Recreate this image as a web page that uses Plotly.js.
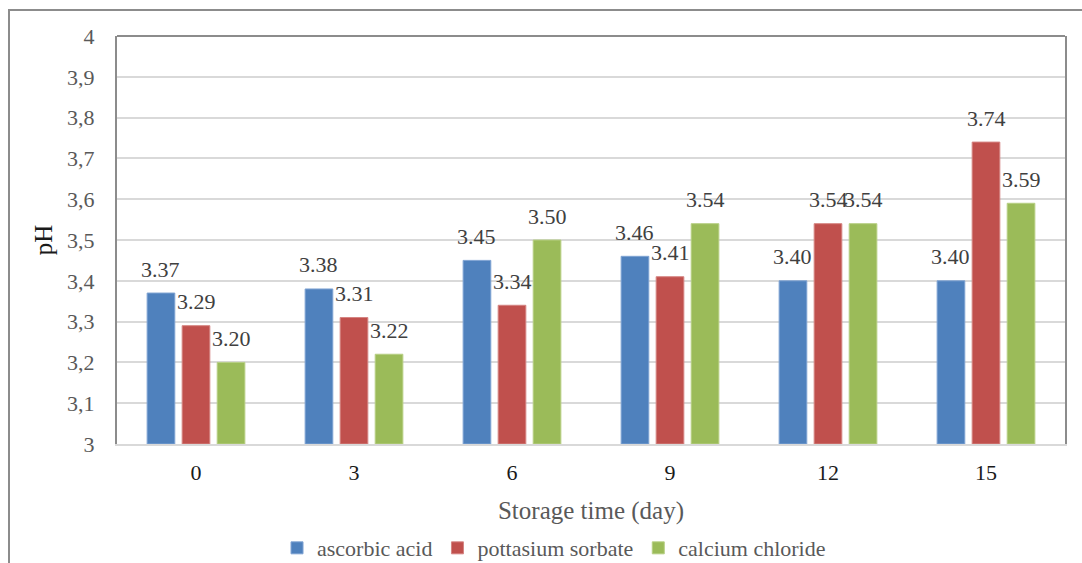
<!DOCTYPE html>
<html>
<head>
<meta charset="utf-8">
<script src="https://cdn.plot.ly/plotly-3.0.1.min.js"></script>
<style>
  html, body { margin: 0; padding: 0; background: #fff; }
  #frame { position: absolute; left: 8px; top: 9px; width: 1100px; height: 600px; border: 2px solid #8c8c8c; box-sizing: border-box; }
  #chart { position: absolute; left: 0; top: 0; width: 1082px; height: 563px; }
</style>
</head>
<body>
<div id="frame"></div>
<div id="chart"></div>
<script>
const categories = ["0", "3", "6", "9", "12", "15"];
const ascorbicAcid = [3.37, 3.38, 3.45, 3.46, 3.40, 3.40];
const potassiumSorbate = [3.29, 3.31, 3.34, 3.41, 3.54, 3.74];
const calciumChloride = [3.20, 3.22, 3.50, 3.54, 3.54, 3.59];
const seriesNames = ["ascorbic acid", "pottasium sorbate", "calcium chloride"];
const yTicks = [3, 3.1, 3.2, 3.3, 3.4, 3.5, 3.6, 3.7, 3.8, 3.9, 4];

const colors = ["#4F81BD", "#C0504D", "#9BBB59"];
const lineColors = ["#7FA3D3", "#D58482", "#B7CF84"];
const serif = "Liberation Serif";
const BARGAP = 0.335;
const BARGROUPGAP = 0.21;

const seriesData = [ascorbicAcid, potassiumSorbate, calciumChloride];
const traces = seriesData.map((vals, i) => ({
  type: "bar",
  name: seriesNames[i],
  x: categories,
  y: vals.map(v => v - 3),
  base: 3,
  marker: { color: colors[i], line: { color: lineColors[i], width: 1 } },
  hoverinfo: "skip"
}));

// data labels positioned via the category axis (index + group offset)
const slot = (1 - BARGAP) / seriesData.length;
const annotations = [];
seriesData.forEach((vals, k) => {
  vals.forEach((v, i) => {
    annotations.push({
      x: i + (k - (seriesData.length - 1) / 2) * slot,
      y: v,
      xref: "x", yref: "y",
      text: v.toFixed(2),
      showarrow: false,
      yanchor: "middle",
      xanchor: "center",
      yshift: 24,
      font: { family: serif, size: 22, color: "#404040" }
    });
  });
});

const layout = {
  width: 1082, height: 563,
  margin: { l: 117, r: 17, t: 36, b: 119, autoexpand: false },
  paper_bgcolor: "rgba(0,0,0,0)",
  plot_bgcolor: "#ffffff",
  separators: ", ",
  barmode: "group",
  bargap: BARGAP,
  bargroupgap: BARGROUPGAP,
  font: { family: serif, size: 22, color: "#595959" },
  xaxis: {
    type: "category",
    automargin: false,
    showgrid: false,
    showline: true, linecolor: "#d9d9d9", linewidth: 2,
    ticks: "", tickfont: { family: serif, size: 22, color: "#1a1a1a" },
    ticklabelstandoff: 8,
    title: { text: "Storage time (day)", font: { family: serif, size: 25, color: "#595959" }, standoff: 17 }
  },
  yaxis: {
    range: [3, 4],
    automargin: false,
    tickvals: yTicks,
    showgrid: true, gridcolor: "#d9d9d9", gridwidth: 2,
    zeroline: false,
    showline: true, linecolor: "#8c8c8c", linewidth: 2, mirror: true,
    ticks: "", tickfont: { family: serif, size: 22, color: "#595959" },
    ticklabelstandoff: 16,
    title: { text: "pH", font: { family: serif, size: 25, color: "#1a1a1a" }, standoff: 7 }
  },
  shapes: [
    { type: "line", xref: "paper", yref: "paper", x0: 0, x1: 1, y0: 1, y1: 1, line: { color: "#8c8c8c", width: 2 } }
  ],
  annotations: annotations,
  legend: {
    orientation: "h", x: 0.461, xanchor: "center", y: -0.255, yanchor: "middle",
    font: { family: serif, size: 22, color: "#595959" },
    itemwidth: 30, traceorder: "normal"
  },
  showlegend: true
};

Plotly.newPlot("chart", traces, layout, { staticPlot: true });
</script>
</body>
</html>
